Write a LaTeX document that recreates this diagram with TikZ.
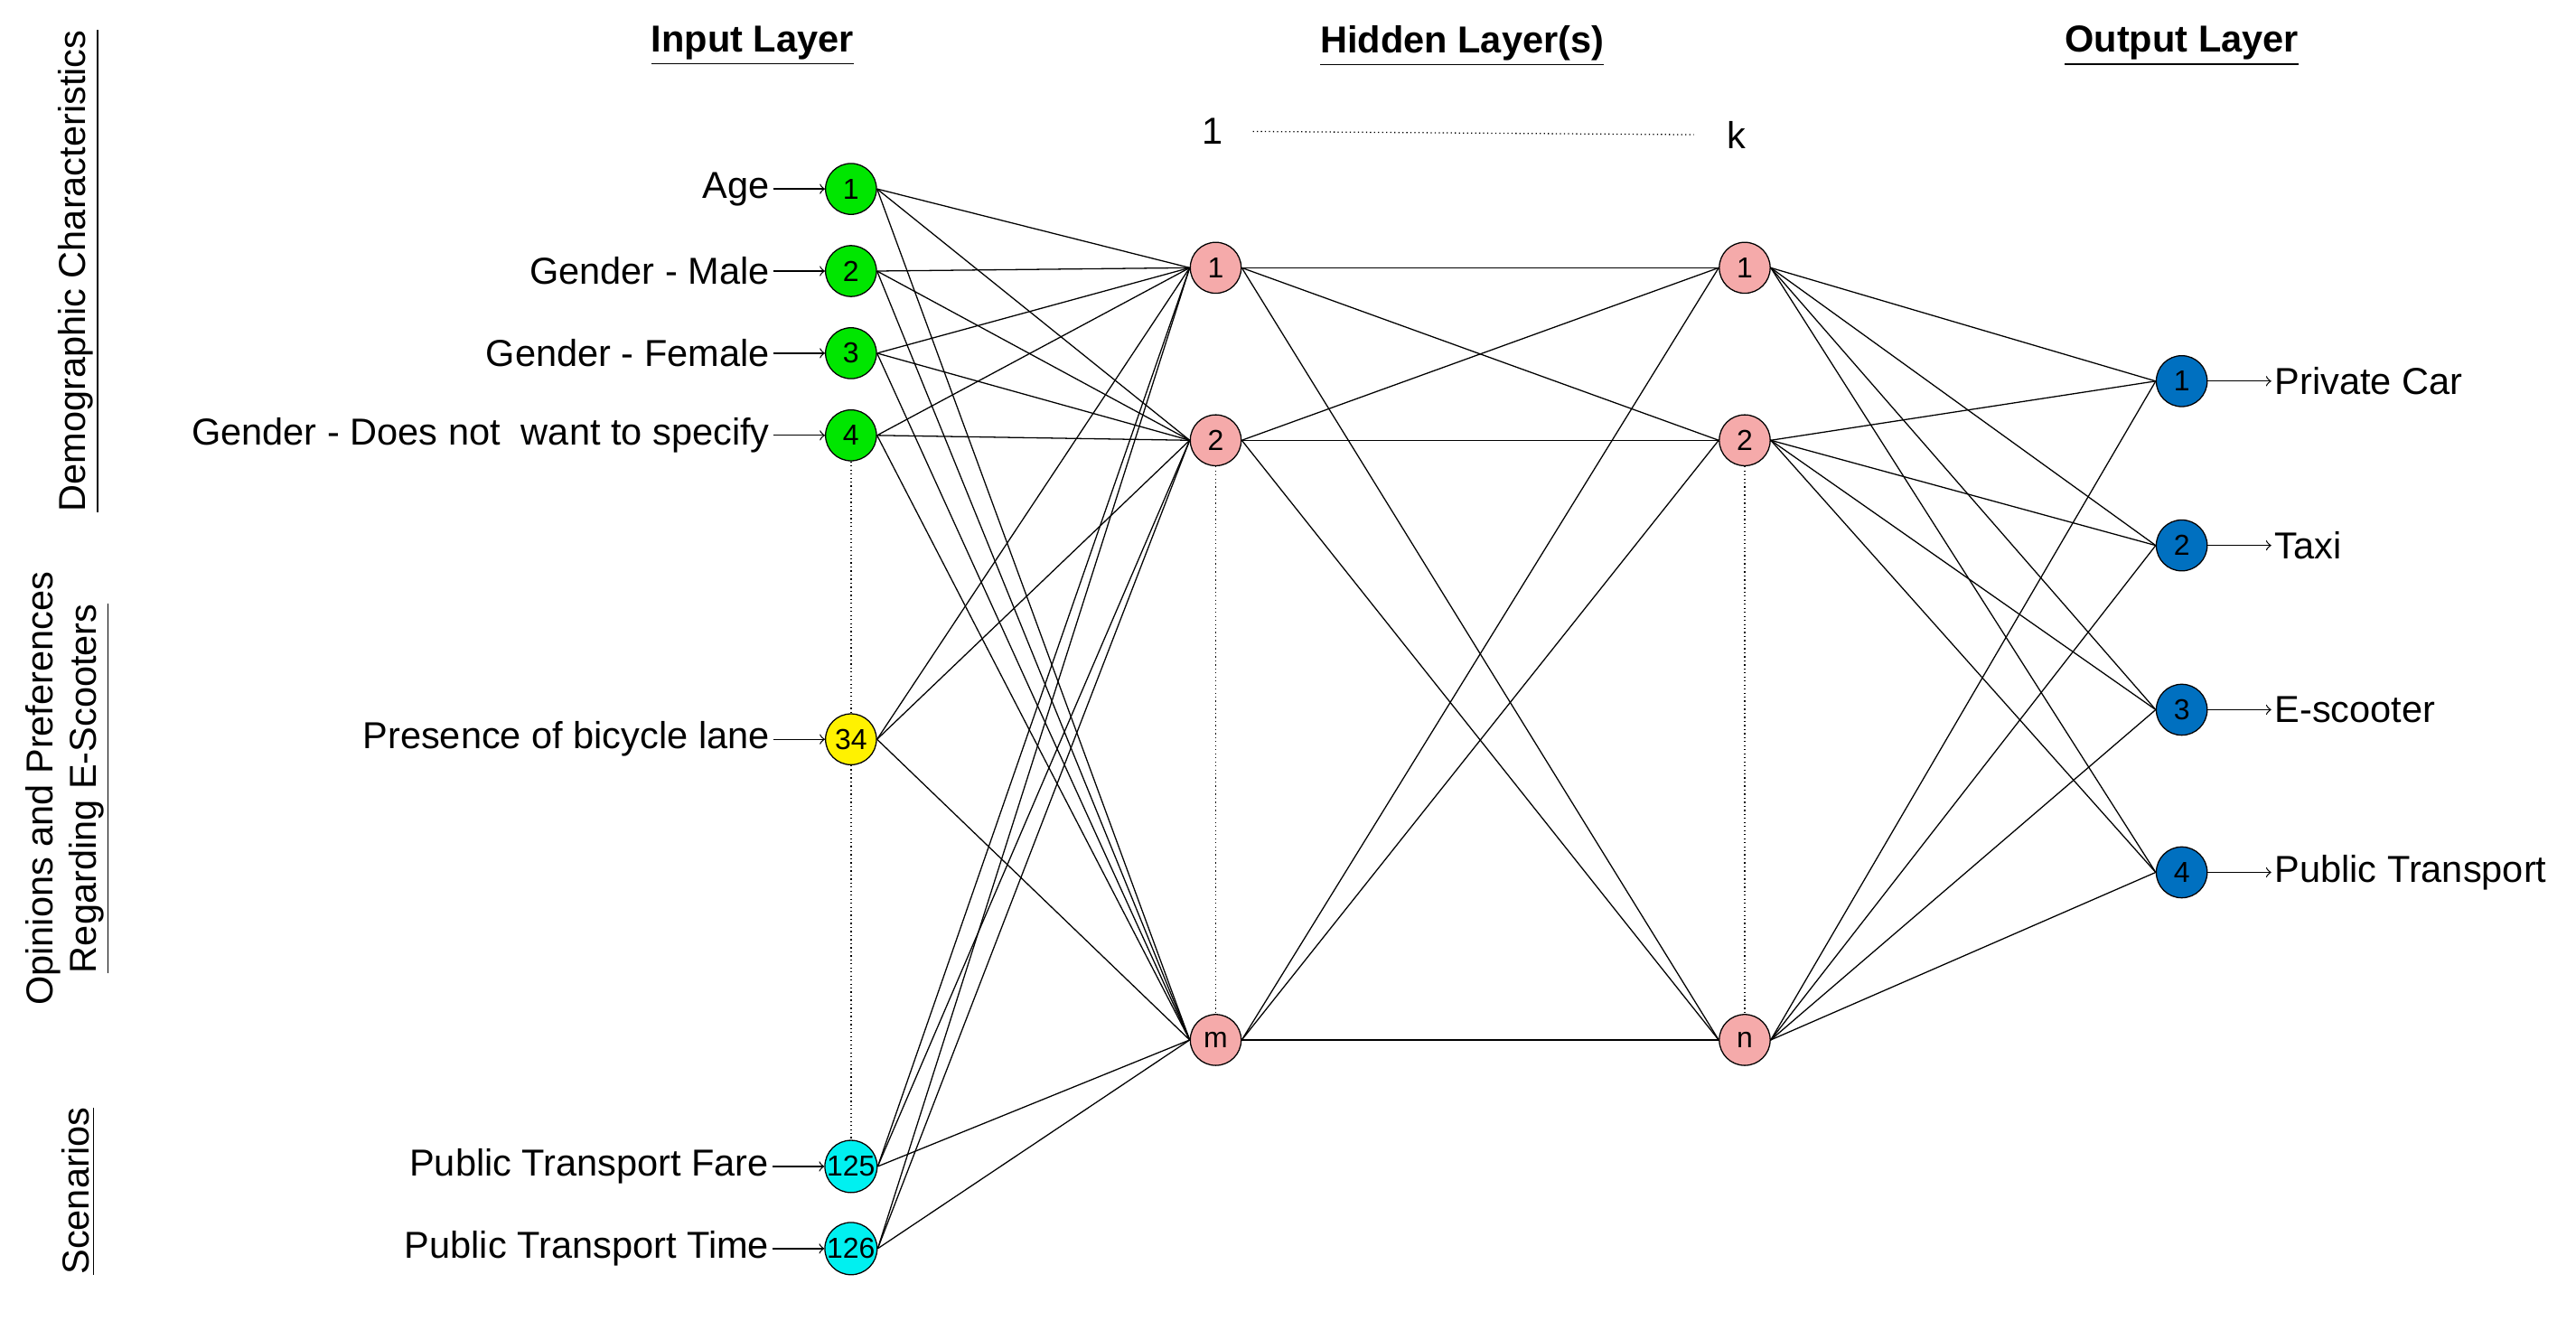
\documentclass[tikz,border=0pt]{standalone}
\usepackage{fontspec}
\setmainfont{Liberation Sans}
\definecolor{ngreen}{RGB}{0,230,0}
\definecolor{ncyan}{RGB}{0,240,240}
\definecolor{npink}{RGB}{245,170,170}
\definecolor{nblue}{RGB}{0,112,192}
\begin{document}
\begin{tikzpicture}[x=0.02cm, y=-0.02cm, thin,
  neuron/.style = {draw, circle, minimum size=0.62cm, inner sep=0pt, font=\fontsize{10}{12}\selectfont},
  inp/.style = {neuron, fill=ngreen},
  opn/.style = {neuron, fill=yellow},
  scn/.style = {neuron, fill=ncyan},
  hid/.style = {neuron, fill=npink},
  outp/.style = {neuron, fill=nblue},
  lbl/.style = {font=\fontsize{13}{15}\selectfont},
  head/.style = {font=\fontsize{13}{15}\selectfont\bfseries},
  side/.style = {font=\fontsize{13}{15}\selectfont, rotate=90, align=center}]
  \useasboundingbox (0,0) rectangle (1568,803.6);
  % headings
  \node[head] at (458,28) {\underline{Input Layer}};
  \node[head] at (890,28) {\underline{Hidden Layer(s)}};
  \node[head] at (1328,28) {\underline{Output Layer}};
  \node[lbl] (one) at (738,80) {1};
  \node[lbl] (kk) at (1057,82) {k};
  \draw[densely dotted] (one.east) ++(12,0) -- ([xshift=-8pt]kk.west);
  % side labels
  \node[side] at (48,165) {\underline{Demographic Characteristics}};
  \node[side] at (41,480) {Opinions and Preferences\\\underline{Regarding E-Scooters}};
  \node[side] at (48,725) {\underline{Scenarios}};
  % input layer
  \node[inp] (i1) at (518,115) {1};
  \node[inp] (i2) at (518,165) {2};
  \node[inp] (i3) at (518,215) {3};
  \node[inp] (i4) at (518,265) {4};
  \node[opn] (i5) at (518,450) {34};
  \node[scn] (i6) at (518,710) {125};
  \node[scn] (i7) at (518,760) {126};
  % hidden layers
  \node[hid] (a1) at (740,163) {1};
  \node[hid] (a2) at (740,268) {2};
  \node[hid] (a3) at (740,633) {m};
  \node[hid] (b1) at (1062,163) {1};
  \node[hid] (b2) at (1062,268) {2};
  \node[hid] (b3) at (1062,633) {n};
  % output layer
  \node[outp] (o1) at (1328,232) {1};
  \node[outp] (o2) at (1328,332) {2};
  \node[outp] (o3) at (1328,432) {3};
  \node[outp] (o4) at (1328,531) {4};
  % input texts
  \foreach \n/\t in {i1/Age, i2/Gender - Male, i3/Gender - Female,
      i4/Gender - Does not\ \ want to specify, i5/Presence of bicycle lane,
      i6/Public Transport Fare, i7/Public Transport Time} {
    \node[lbl, anchor=east, inner sep=1pt] (t\n) at ([xshift=-18pt]\n.west) {\t};
    \draw[->] ([xshift=-18pt]\n.west) -- (\n);
  }
  % output texts
  \foreach \n/\t in {o1/Private Car, o2/Taxi, o3/E-scooter, o4/Public Transport} {
    \node[lbl, anchor=west, inner sep=1pt] (t\n) at ([xshift=22pt]\n.east) {\t};
    \draw[->] (\n) -- (t\n.west);
  }
  % dotted gaps
  \draw[densely dotted] (i4) -- (i5);
  \draw[densely dotted] (i5) -- (i6);
  \draw[densely dotted] (a2) -- (a3);
  \draw[densely dotted] (b2) -- (b3);
  % connections
  \foreach \i in {i1,i2,i3,i4,i5,i6,i7}
    \foreach \h in {a1,a2,a3}
      \draw (\i.east) -- (\h.west);
  \foreach \h in {a1,a2,a3}
    \foreach \g in {b1,b2,b3}
      \draw (\h.east) -- (\g.west);
  \foreach \g in {b1,b2,b3}
    \foreach \o in {o1,o2,o3,o4}
      \draw (\g.east) -- (\o.west);
\end{tikzpicture}
\end{document}
